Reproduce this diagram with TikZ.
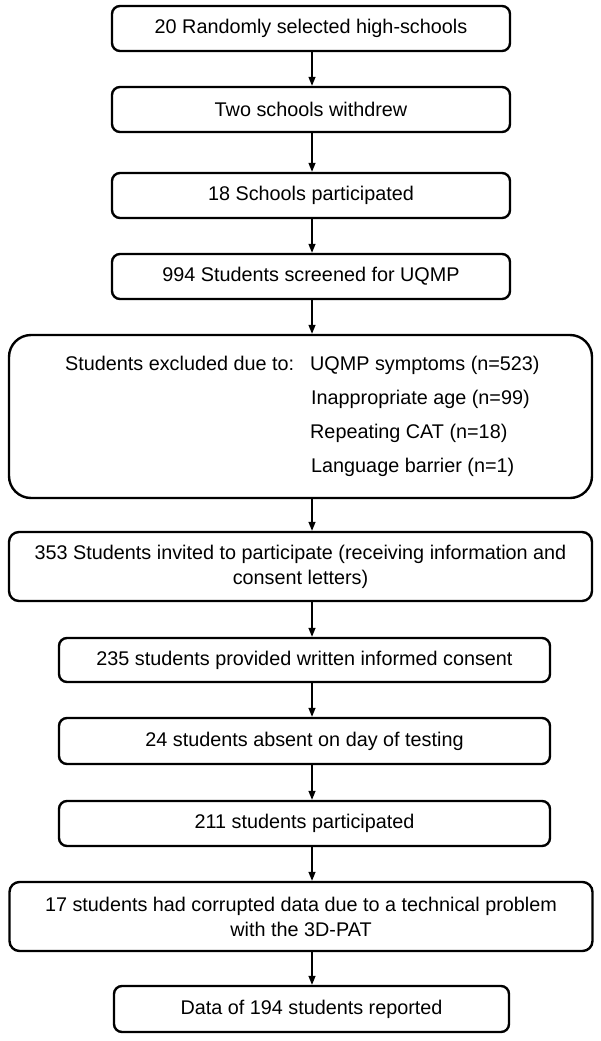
\documentclass[tikz,border=0pt]{standalone}
\usepackage{fontspec}
\setmainfont{Liberation Sans}
\usepackage{tikz}
\usetikzlibrary{arrows.meta}

\begin{document}
\begin{tikzpicture}[x=1pt, y=-1pt,
  flowbox/.style={draw, line width=2.4pt, rounded corners=8pt, inner sep=0pt, align=center, font=\fontsize{19.8}{25}\selectfont},
  txt/.style={inner sep=0pt, font=\fontsize{19.8}{25}\selectfont},
  flow/.style={line width=1.3pt, -{Triangle[length=9pt,width=7pt]}}]
\useasboundingbox (0,0) rectangle (600,1041);

% School level
\node[flowbox, minimum width=398pt, minimum height=45pt] (schools) at (311,28.5) {20 Randomly selected high-schools};
\node[flowbox, minimum width=398pt, minimum height=45pt] (withdrew) at (311,109.5) {Two schools withdrew};
\node[flowbox, minimum width=398pt, minimum height=45pt] (joined) at (311,195.5) {18 Schools participated};
\node[flowbox, minimum width=398pt, minimum height=45pt] (screened) at (311,276.5) {994 Students screened for UQMP};

% Exclusions
\node[flowbox, rounded corners=22pt, minimum width=583pt, minimum height=163pt] (excluded) at (300.5,416.5) {};
\node[txt, anchor=base west] (exlabel) at (65,370) {Students excluded due to:};
\node[txt, anchor=base west] (symptoms) at (310,370) {UQMP symptoms (n=523)};
\node[txt, anchor=base west] (age) at (311,404) {Inappropriate age (n=99)};
\node[txt, anchor=base west] (repeat) at (310,438) {Repeating CAT (n=18)};
\node[txt, anchor=base west] (language) at (311,472) {Language barrier (n=1)};

% Student level
\node[flowbox, rounded corners=10pt, minimum width=583pt, minimum height=69pt] (invited) at (300.5,566.5) {353 Students invited to participate (receiving information and\\consent letters)};
\node[flowbox, minimum width=491pt, minimum height=44pt] (consent) at (304.5,660) {235 students provided written informed consent};
\node[flowbox, minimum width=491pt, minimum height=46pt] (absent) at (304.5,741) {24 students absent on day of testing};
\node[flowbox, minimum width=491pt, minimum height=45pt] (tested) at (304.5,823.5) {211 students participated};
\node[flowbox, rounded corners=10pt, minimum width=583pt, minimum height=69pt] (corrupted) at (301,916.5) {17 students had corrupted data due to a technical problem\\with the 3D-PAT};
\node[flowbox, minimum width=395pt, minimum height=46pt] (reported) at (311.5,1009) {Data of 194 students reported};

% Arrows down the middle
\coordinate (ax) at (312,0);
\foreach \a/\b in {schools/withdrew, withdrew/joined, joined/screened, screened/excluded, excluded/invited, invited/consent, consent/absent, absent/tested, tested/corrupted, corrupted/reported} {
    \draw[flow] (ax |- \a.south) -- (ax |- \b.north);
}

\end{tikzpicture}
\end{document}
